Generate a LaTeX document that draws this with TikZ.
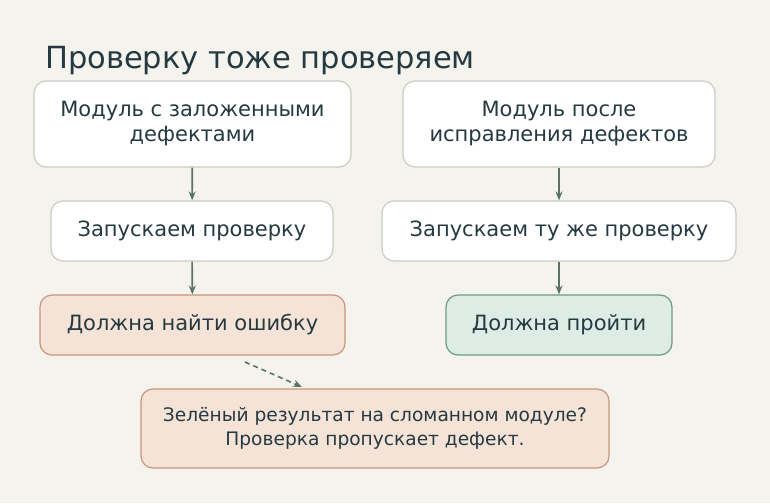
\documentclass[tikz,border=0pt]{standalone}
\usepackage{fontspec}
\setmainfont{DejaVu Sans}
\usetikzlibrary{arrows.meta}
\definecolor{bg}{HTML}{F5F3EE}
\definecolor{txt}{HTML}{253A40}
\definecolor{gb}{HTML}{CCCBC3}
\definecolor{pf}{HTML}{F5E3D7}
\definecolor{pb}{HTML}{C9957A}
\definecolor{gf}{HTML}{DDEDE5}
\definecolor{gbb}{HTML}{6E9A84}
\definecolor{ar}{HTML}{5A7367}
\begin{document}
\begin{tikzpicture}[x=1pt,y=-1pt,
 box/.style={draw=gb,fill=white,rounded corners=12pt,line width=1.2pt,text=txt,align=center,font=\fontsize{21}{25}\selectfont},
 bad/.style={box,draw=pb,fill=pf},
 good/.style={box,draw=gbb,fill=gf},
 arr/.style={draw=ar,line width=1.6pt,-{Stealth[length=9pt,width=7pt]}}]
\fill[bg] (0,0) rectangle (770,503);
\useasboundingbox (0,0) rectangle (770,503);
\node[anchor=base west,text=txt,font=\fontsize{30.5}{36}\selectfont,inner sep=0pt] (t) at (45,68) {Проверку тоже проверяем};
\node[box,minimum width=317pt,minimum height=86pt] (a) at (192.5,124) {Модуль с заложенными\\дефектами};
\node[box,minimum width=312pt,minimum height=86pt] (b) at (559,124) {Модуль после\\исправления дефектов};
\node[box,minimum width=282pt,minimum height=60pt] (c) at (192,231) {Запускаем проверку};
\node[box,minimum width=354pt,minimum height=60pt] (d) at (559,231) {Запускаем ту же проверку};
\node[bad,minimum width=305pt,minimum height=60pt] (e) at (192.5,325) {Должна найти ошибку};
\node[good,minimum width=226pt,minimum height=60pt] (f) at (559,325) {Должна пройти};
\node[bad,minimum width=468pt,minimum height=79pt,font=\fontsize{18.6}{24}\selectfont] (g) at (375,428.5) {Зелёный результат на сломанном модуле?\\Проверка пропускает дефект.};
\draw[arr] (a) -- (c);
\draw[arr] (c) -- (e);
\draw[arr] (b) -- (d);
\draw[arr] (d) -- (f);
\draw[arr,dashed,dash pattern=on 5pt off 4pt] (245,362) -- (302,387);
\end{tikzpicture}
\end{document}
